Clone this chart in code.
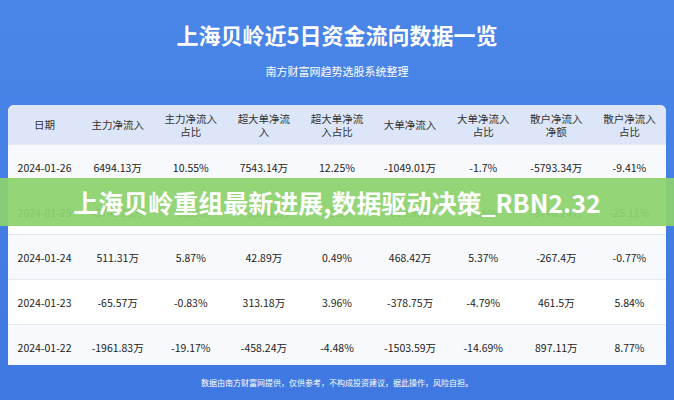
<!DOCTYPE html><html><head><meta charset="utf-8">
<script src="https://cdn.jsdelivr.net/npm/chart.js@4"></script>
<style>
body{margin:0;width:674px;height:400px;overflow:hidden;font-family:"Noto Sans CJK SC",sans-serif;background:linear-gradient(#4a86e8,#3f78e0);position:relative}
#t{position:absolute;top:18px;width:100%;text-align:center;color:#fff;font-size:22px;font-weight:bold}
#s{position:absolute;top:63px;width:100%;text-align:center;color:#fff;font-size:11px}
#card{position:absolute;left:8px;top:105px;width:658px;height:260px;background:#fff;border-radius:6px 6px 0 0;overflow:hidden}
table{border-collapse:collapse;width:100%;font-size:10.5px;color:#222;table-layout:fixed}
th{background:#dce6f8;height:39px;padding:0;font-weight:normal;font-size:10.5px;line-height:13px;color:#333}
td{height:44px;padding:0;text-align:center;border-top:1px solid #e4e8f0}
tr:nth-child(even) td{background:#f7f9fd}
#g{position:absolute;left:0;top:178px;width:674px;height:48px;background:rgba(140,210,110,0.93);color:#fff;font-size:25px;font-weight:bold;text-align:center;line-height:48px}
#f{position:absolute;top:377px;width:100%;text-align:center;color:#fff;font-size:8px}
</style></head><body>
<div id="t"></div><div id="s"></div>
<div id="card"><table id="tb"></table></div>
<div id="g"></div><div id="f"></div>
<script>
const title="上海贝岭近5日资金流向数据一览";
const subtitle="南方财富网趋势选股系统整理";
const banner="上海贝岭重组最新进展,数据驱动决策_RBN2.32";
const footer="数据由南方财富网提供，仅供参考，不构成投资建议，据此操作，风险自担。";
const headers=["日期","主力净流入","主力净流入<br>占比","超大单净流<br>入","超大单净流<br>入占比","大单净流入","大单净流入<br>占比","散户净流入<br>净额","散户净流入<br>占比"];
const dates=["2024-01-26","2024-01-25","2024-01-24","2024-01-23","2024-01-22"];
const mainNet=["6494.13万","-5749.05万","511.31万","-65.57万","-1961.83万"];
const mainPct=["10.55%","-38.8%","5.87%","-0.83%","-19.17%"];
const superNet=["7543.14万","-4930.21万","42.89万","313.18万","-458.24万"];
const superPct=["12.25%","-33.1%","0.49%","3.96%","-4.48%"];
const bigNet=["-1049.01万","-819.98万","468.42万","-378.75万","-1503.59万"];
const bigPct=["-1.7%","-5.5%","5.37%","-4.79%","-14.69%"];
const retailNet=["-5793.34万","-3740.24万","-267.4万","461.5万","897.11万"];
const retailPct=["-9.41%","-25.11%","-0.77%","5.84%","8.77%"];
document.getElementById('t').textContent=title;
document.getElementById('s').textContent=subtitle;
document.getElementById('g').textContent=banner;
document.getElementById('f').textContent=footer;
let h="<tr>"+headers.map(x=>"<th>"+x+"</th>").join("")+"</tr>";
dates.forEach((d,i)=>{h+="<tr>"+[d,mainNet[i],mainPct[i],superNet[i],superPct[i],bigNet[i],bigPct[i],retailNet[i],retailPct[i]].map(x=>"<td>"+x+"</td>").join("")+"</tr>";});
document.getElementById('tb').innerHTML=h;
</script></body></html>
